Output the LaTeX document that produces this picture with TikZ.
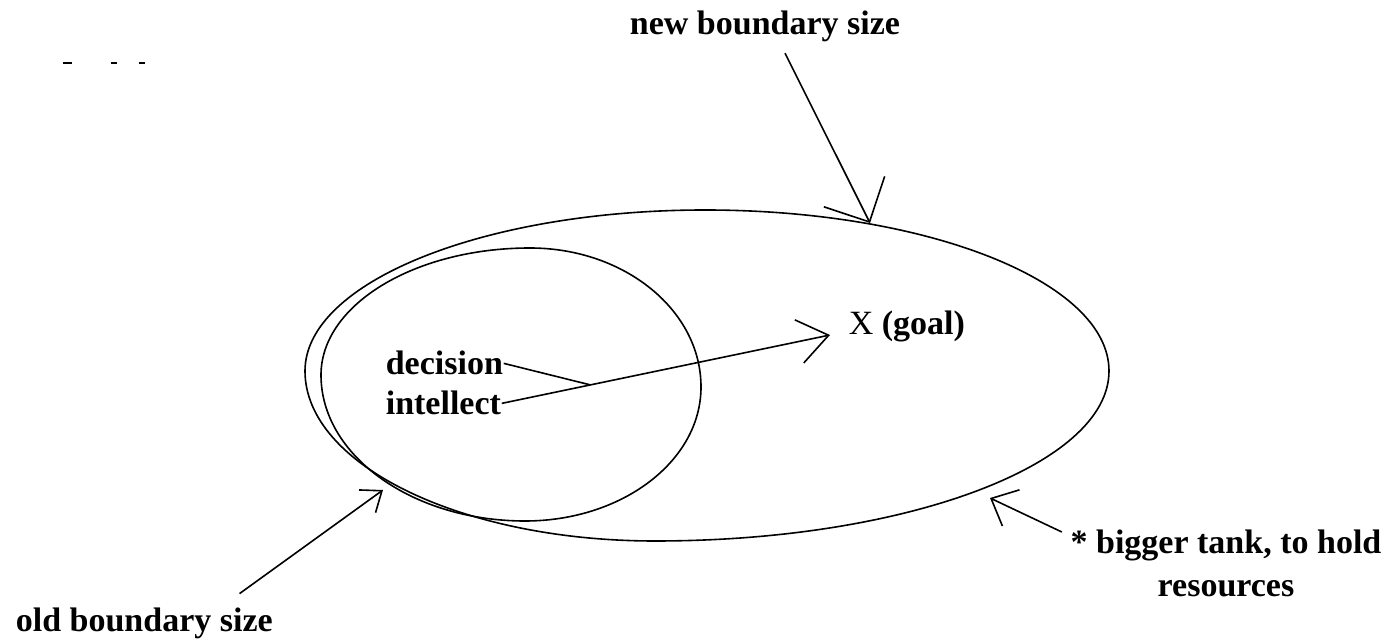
\documentclass[tikz,border=0pt]{standalone}
\usepackage{fontspec}
\setmainfont{Liberation Serif}
\usetikzlibrary{arrows.meta, calc}

\begin{document}
\begin{tikzpicture}[x=0.5pt, y=-0.5pt, line width=0.8pt,
    etiquette/.style={font=\fontsize{17}{21.5}\selectfont\bfseries, inner sep=0pt}]
        \useasboundingbox (0,0) rectangle (1394,641);

        % Petits traits en haut
        \foreach \a/\b in {63/72, 111/117, 139/145}
            \draw[line width=1.4pt] (\a,63) -- (\b,63);

        % Nouvelle frontiere (grande)
        \draw (305,371) arc[start angle=180, end angle=270, x radius=400, y radius=161]
            arc[start angle=270, end angle=360, x radius=404, y radius=161]
            arc[start angle=0, end angle=90, x radius=454, y radius=170]
            arc[start angle=90, end angle=180, x radius=350, y radius=170] -- cycle;

        % Ancienne frontiere (petite)
        \draw (321,375) arc[start angle=180, end angle=270, x radius=209, y radius=127]
            arc[start angle=270, end angle=360, x radius=171, y radius=139]
            arc[start angle=0, end angle=90, x radius=176, y radius=134]
            arc[start angle=90, end angle=180, x radius=204, y radius=146] -- cycle;

        % Textes
        \node[etiquette, anchor=base] (nouvelle) at (765,35) {new boundary size};
        \node[etiquette, anchor=base west] (ancienne) at (15,632) {old boundary size};
        \node[etiquette, anchor=base west] (decision) at (385,375) {decision};
        \node[etiquette, anchor=base west] (intellect) at (385,415) {intellect};
        \node[etiquette, anchor=base west] (but) at (848,335) {{\mdseries X} (goal)};
        \node[etiquette, anchor=north, align=center] (reservoir) at (1226,529)
            {* bigger tank, to hold\\resources};

        % Pointes des fleches
        \coordinate (pointeNouvelle) at (870,223);
        \coordinate (pointeAncienne) at (383,490);
        \coordinate (pointeReservoir) at (990,498);
        \coordinate (pointeBut) at (830,335);
        \coordinate (jonction) at ($(intellect.east)!0.27!(pointeBut)$);

        % Fleches
        \draw[-{Straight Barb[length=17pt, width=34pt]}] ([xshift=10pt, yshift=-5pt]nouvelle.south) -- (pointeNouvelle);
        \draw[-{Straight Barb[length=9pt, width=14pt]}] ([xshift=-17pt, yshift=7pt]ancienne.north east) -- (pointeAncienne);
        \draw[-{Straight Barb[length=11pt, width=20pt]}] ([xshift=-4pt, yshift=-1.5pt]reservoir.north west) -- (pointeReservoir);
        \draw[-{Straight Barb[length=15pt, width=22pt]}] (intellect.east) -- (pointeBut);
        \draw (decision.east) -- (jonction);
    \end{tikzpicture}
\end{document}
